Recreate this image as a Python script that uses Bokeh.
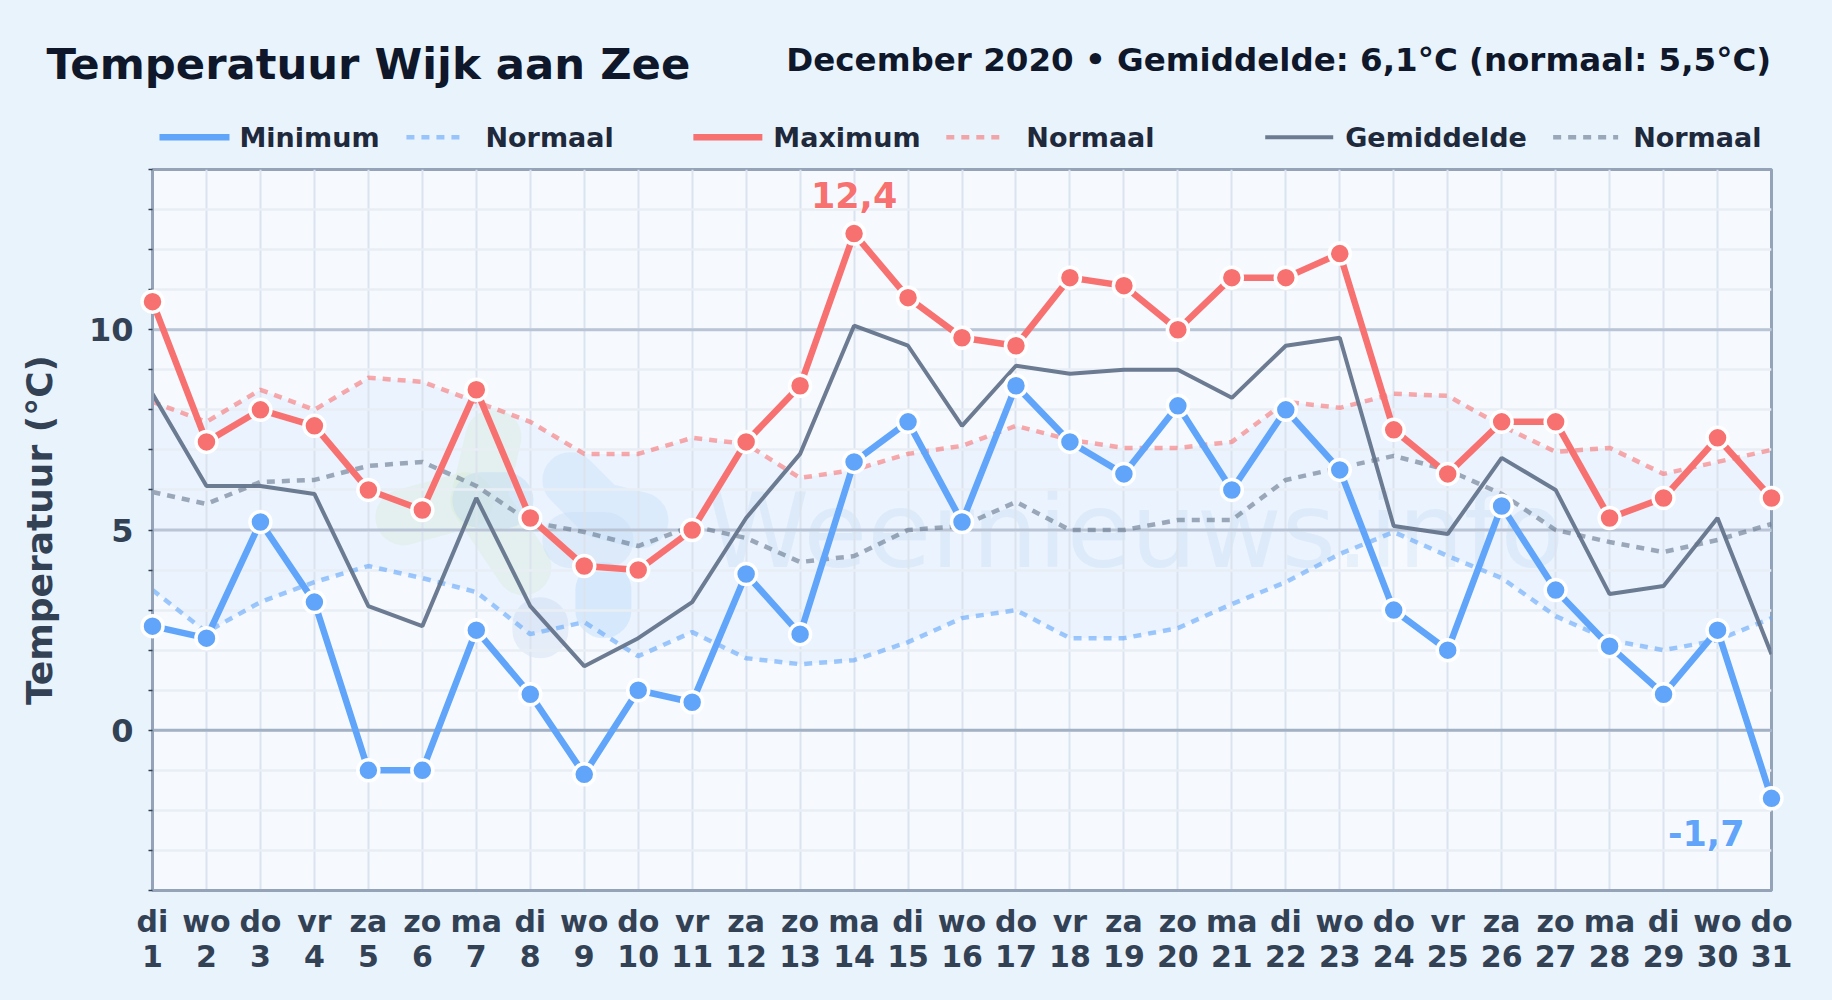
from bokeh.plotting import figure
from bokeh.embed import file_html
from bokeh.resources import INLINE
from bokeh.core.properties import value
from bokeh.models import (ColumnDataSource, FixedTicker, Range1d, LinearAxis,
                          Span, GlobalInlineStyleSheet)

FONT = "DejaVu Sans"

days = list(range(1, 32))
weekdays = ["di", "wo", "do", "vr", "za", "zo", "ma", "di", "wo", "do", "vr", "za", "zo", "ma", "di", "wo",
            "do", "vr", "za", "zo", "ma", "di", "wo", "do", "vr", "za", "zo", "ma", "di", "wo", "do"]
t_max = [10.7, 7.2, 8.0, 7.6, 6.0, 5.5, 8.5, 5.3, 4.1, 4.0, 5.0, 7.2, 8.6, 12.4, 10.8, 9.8, 9.6, 11.3, 11.1, 10.0,
         11.3, 11.3, 11.9, 7.5, 6.4, 7.7, 7.7, 5.3, 5.8, 7.3, 5.8]
t_min = [2.6, 2.3, 5.2, 3.2, -1.0, -1.0, 2.5, 0.9, -1.1, 1.0, 0.7, 3.9, 2.4, 6.7, 7.7, 5.2, 8.6, 7.2, 6.4, 8.1,
         6.0, 8.0, 6.5, 3.0, 2.0, 5.6, 3.5, 2.1, 0.9, 2.5, -1.7]
t_mean = [8.4, 6.1, 6.1, 5.9, 3.1, 2.6, 5.8, 3.1, 1.6, 2.3, 3.2, 5.3, 6.9, 10.1, 9.6, 7.6, 9.1, 8.9, 9.0, 9.0,
          8.3, 9.6, 9.8, 5.1, 4.9, 6.8, 6.0, 3.4, 3.6, 5.3, 1.9]
norm_max = [8.2, 7.7, 8.5, 8.0, 8.8, 8.7, 8.2, 7.7, 6.9, 6.9, 7.3, 7.15, 6.3, 6.5, 6.9, 7.1, 7.6, 7.25, 7.05, 7.05,
            7.2, 8.2, 8.05, 8.4, 8.35, 7.6, 6.95, 7.05, 6.4, 6.7, 7.0]
norm_mean = [5.95, 5.65, 6.2, 6.25, 6.6, 6.7, 6.1, 5.2, 4.95, 4.6, 5.1, 4.8, 4.2, 4.35, 5.0, 5.1, 5.7, 5.0, 5.0, 5.25,
             5.25, 6.25, 6.55, 6.85, 6.5, 5.9, 5.0, 4.7, 4.45, 4.75, 5.15]
norm_min = [3.5, 2.45, 3.2, 3.7, 4.1, 3.8, 3.45, 2.4, 2.7, 1.85, 2.45, 1.8, 1.65, 1.75, 2.2, 2.8, 3.0, 2.3, 2.3, 2.55,
            3.15, 3.7, 4.4, 4.95, 4.35, 3.8, 2.85, 2.25, 2.0, 2.25, 2.8]
y_ticks = list(range(-4, 15))
y_labelled = [0, 5, 10]

BLUE, RED, SLATE = "#60a5fa", "#f87171", "#64748b"
PAGE = "#e9f3fc"

p = figure(width=1832, height=1000, output_backend="svg", toolbar_location=None,
           x_range=Range1d(1, 31), y_range=Range1d(-4, 14),
           min_border_left=152, min_border_right=61, min_border_top=169, min_border_bottom=110,
           background_fill_color="#f6faff", border_fill_color=PAGE)
p.stylesheets = [GlobalInlineStyleSheet(css=f"html,body{{margin:0;padding:0;background:{PAGE};overflow:hidden}}")]
p.outline_line_color = "#94a3b8"
p.outline_line_width = 3

# axes: weekday row and day-number row
xa, ya = p.xaxis[0], p.yaxis[0]
xb = LinearAxis()
p.add_layout(xb, "below")
for ax, labels, standoff in [(xa, weekdays, 7), (xb, days, -3)]:
    ax.ticker = FixedTicker(ticks=days)
    ax.major_label_overrides = {d: str(l) for d, l in zip(days, labels)}
    ax.major_label_text_font = FONT
    ax.major_label_text_font_style = "bold"
    ax.major_label_text_font_size = "30px"
    ax.major_label_text_color = "#334155"
    ax.major_label_standoff = standoff
    ax.major_tick_line_color = None
    ax.minor_tick_line_color = None
xa.axis_line_color = "#94a3b8"
xa.axis_line_width = 3
xb.axis_line_color = None

ya.ticker = FixedTicker(ticks=y_ticks)
ya.major_label_overrides = {t: (str(t) if t in y_labelled else "") for t in y_ticks}
ya.major_label_text_font = FONT
ya.major_label_text_font_style = "bold"
ya.major_label_text_font_size = "32px"
ya.major_label_text_color = "#334155"
ya.major_label_standoff = 15
ya.major_tick_line_color = "#334155"
ya.major_tick_line_width = 1.5
ya.major_tick_in = 0
ya.major_tick_out = 4
ya.minor_tick_line_color = None
ya.axis_line_color = "#94a3b8"
ya.axis_line_width = 3
ya.axis_label = "Temperatuur (°C)"
ya.axis_label_text_font = FONT
ya.axis_label_text_font_style = "bold"
ya.axis_label_text_font_size = "36px"
ya.axis_label_text_color = "#334155"
ya.axis_label_standoff = 26

p.xgrid.ticker = FixedTicker(ticks=days)
p.ygrid.ticker = FixedTicker(ticks=y_ticks)
p.xgrid.grid_line_color = "#dbe3ee"
p.xgrid.grid_line_width = 2
p.ygrid.grid_line_color = "#e9eef5"
p.ygrid.grid_line_width = 2.5

for lvl, col in zip(y_labelled, ["#a3b1c4", "#b9c5d6", "#b9c5d6"]):
    p.add_layout(Span(location=lvl, dimension="width", line_color=col, line_width=3, level="underlay"))

# band between normal min and normal max
src = ColumnDataSource(dict(day=days, tmax=t_max, tmin=t_min, tmean=t_mean, nmax=norm_max, nmean=norm_mean, nmin=norm_min))
p.varea(x="day", y1="nmin", y2="nmax", source=src, fill_color="#3b82f6", fill_alpha=0.06, level="underlay")

# page pixels mapped to data, for decoration outside the data
def dx(px): return 1 + (px - 152) / 53.98
def dy(py): return (730 - py) / 40.05

# faint watermark: logo blobs and site name
blob_paths = [
    ("#d5e8c8", 0.28, [(403, 517), (465, 500)]),
    ("#d5e8c8", 0.28, [(493, 437), (478, 500), (523, 567)]),
    ("#bcd7f2", 0.40, [(480, 500), (505, 500)]),
    ("#bfdcf8", 0.35, [(570, 480), (600, 510), (640, 520)]),
    ("#bcd7f2", 0.30, [(570, 540), (605, 540)]),
    ("#bfdcf8", 0.45, [(603, 590), (603, 610)]),
    ("#c3d4ea", 0.35, [(540, 625), (540, 630)]),
]
for col, a, path in blob_paths:
    p.line([dx(q[0]) for q in path], [dy(q[1]) for q in path], line_color=col, line_alpha=a,
           line_width=56, line_cap="round", line_join="round", level="underlay")
p.text(x=[dx(1135)], y=[dy(531)], text=["Weernieuws.info"], text_font=value(FONT), text_font_size="104px",
       text_color="#a9c6ea", text_alpha=0.2, text_align="center", text_baseline="middle", level="underlay")

# normals
DASH = "8 7"
NORMAL = dict(line_alpha=0.6, line_width=4.5, line_dash=DASH)
p.line("day", "nmin", source=src, line_color=BLUE, **NORMAL)
p.line("day", "nmax", source=src, line_color=RED, **NORMAL)
p.line("day", "nmean", source=src, line_color=SLATE, **NORMAL)
# series
MEAN = dict(line_alpha=0.95, line_width=4)
BOLD = dict(line_width=6.5)
p.line("day", "tmean", source=src, line_color=SLATE, **MEAN)
p.line("day", "tmin", source=src, line_color=BLUE, level="overlay", **BOLD)
p.line("day", "tmax", source=src, line_color=RED, level="overlay", **BOLD)
p.scatter("day", "tmin", source=src, size=21, fill_color=BLUE, line_color="white", line_width=3.5, level="overlay")
p.scatter("day", "tmax", source=src, size=21, fill_color=RED, line_color="white", line_width=3.5, level="overlay")

# extreme labels: white halo under a solid label
i_hi = t_max.index(max(t_max))
i_lo = t_min.index(min(t_min))
for (d, v, col, xo, yo, al) in [(days[i_hi], t_max[i_hi], RED, 0, -39, "center"),
                                (days[i_lo], t_min[i_lo], BLUE, -27, 35, "right")]:
    txt = [f"{v}".replace(".", ",")]
    common = dict(text_font=value(FONT), text_font_style="bold", text_font_size="35px", text_align=al,
                  text_baseline="middle", x_offset=xo, y_offset=yo, level="overlay")
    p.text(x=[d], y=[v], text=txt, text_color="white", text_outline_color="white", **common)
    p.text(x=[d], y=[v], text=txt, text_color=col, **common)

# titles
for txt, px, py, size, al in [("Temperatuur Wijk aan Zee", 46, 64, "43.3px", "left"),
                              ("December 2020 • Gemiddelde: 6,1°C (normaal: 5,5°C)", 1771, 60, "32.5px", "right")]:
    p.text(x=[dx(px)], y=[dy(py)], text=[txt], text_font=value(FONT), text_font_style="bold", text_font_size=size,
           text_color="#0f172a", text_align=al, text_baseline="alphabetic", level="overlay")

# legend row
LEG_Y = 137
entries = [("Minimum", BLUE, BOLD, 159, 229, 239), ("Normaal", BLUE, NORMAL, 406, 464, 485),
           ("Maximum", RED, BOLD, 693, 762, 773), ("Normaal", RED, NORMAL, 946, 1006, 1026),
           ("Gemiddelde", SLATE, MEAN, 1265, 1333, 1345), ("Normaal", SLATE, NORMAL, 1553, 1618, 1633)]
for name, col, style, x0, x1, xt in entries:
    p.line([dx(x0), dx(x1)], [dy(LEG_Y), dy(LEG_Y)], line_color=col, level="overlay", **style)
    p.text(x=[dx(xt)], y=[dy(LEG_Y)], text=[name], text_font=value(FONT), text_font_style="bold", text_font_size="27px",
           text_color="#1e293b", text_align="left", text_baseline="middle", level="overlay")

open("out.html", "w").write(file_html(p, INLINE))
